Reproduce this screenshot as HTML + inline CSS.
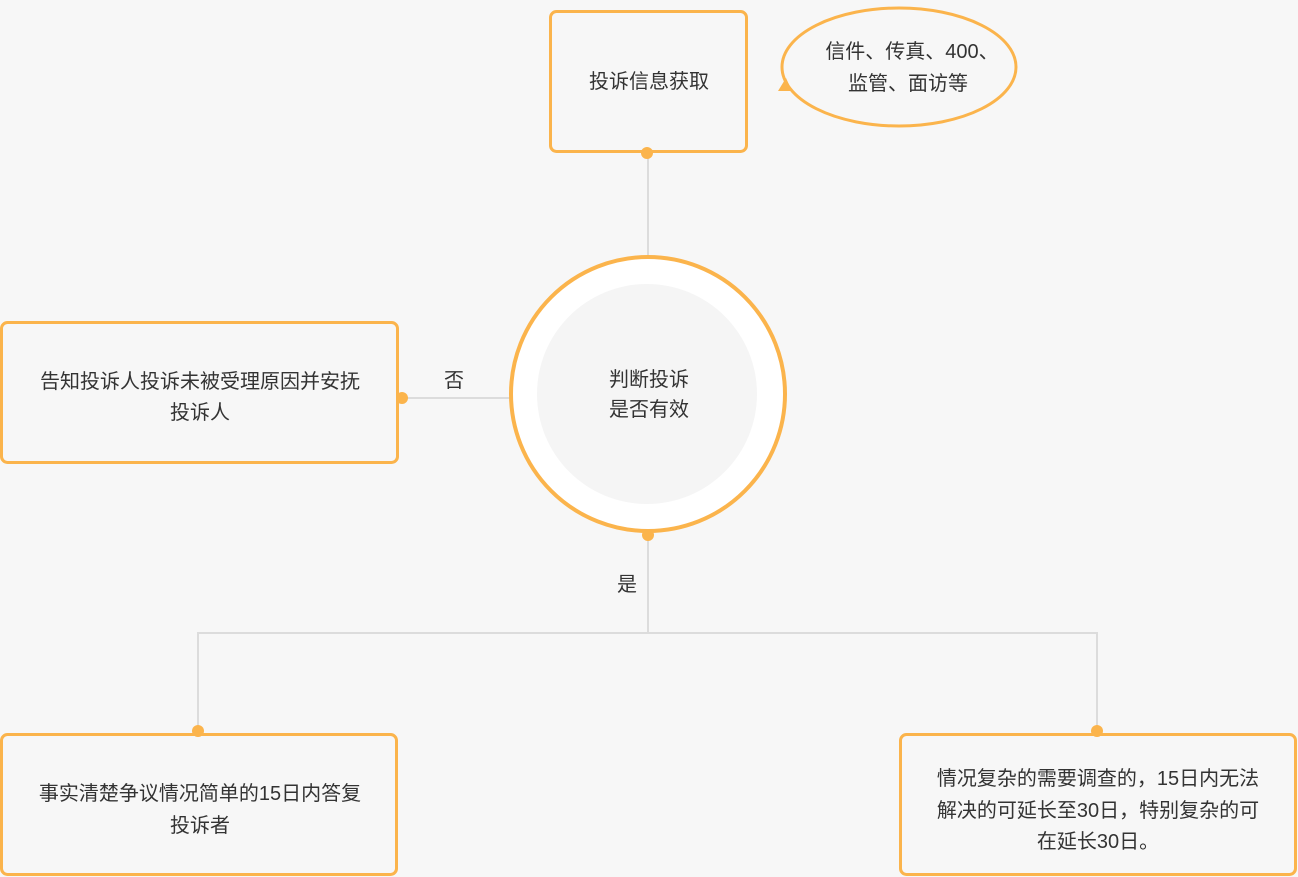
<!DOCTYPE html>
<html><head><meta charset="utf-8"><style>
body{margin:0;width:1298px;height:877px;background:#f7f7f7;overflow:hidden;font-family:"Liberation Sans","Noto Sans CJK SC",sans-serif;}
</style></head><body>
<svg width="1298" height="877" xmlns="http://www.w3.org/2000/svg" style="position:absolute;left:0;top:0">
<g stroke="#dcdcdc" stroke-width="2" fill="none">
<line x1="648" y1="153" x2="648" y2="258"/>
<line x1="402" y1="398" x2="510" y2="398"/>
<polyline points="648,535 648,633 198,633 198,731"/>
<polyline points="648,633 1097,633 1097,731"/>
</g>
<g fill="#f7f7f7" stroke="#fbb44c" stroke-width="3">
<rect x="550.5" y="11.5" width="196" height="140" rx="6"/>
<rect x="1.5" y="322.5" width="396" height="140" rx="6"/>
<rect x="1.5" y="734.5" width="395" height="140" rx="6"/>
<rect x="900.5" y="734.5" width="395" height="140" rx="6"/>
<ellipse cx="899" cy="67" rx="117" ry="59"/>
</g>
<polygon points="778,91 792,91 786,78" fill="#fbb44c"/>
<circle cx="648" cy="394" r="137" fill="#fff" stroke="#fbb44c" stroke-width="4"/>
<circle cx="647" cy="394" r="110" fill="#f5f5f5"/>
<g fill="#fbb44c">
<circle cx="647" cy="153" r="6"/>
<circle cx="402" cy="398" r="6"/>
<circle cx="648" cy="535" r="6"/>
<circle cx="198" cy="731" r="6"/>
<circle cx="1097" cy="731" r="6"/>
</g>
<g fill="#333" font-size="20" text-anchor="middle" font-family="Liberation Sans, Noto Sans CJK SC, sans-serif">
<text x="649" y="88">投诉信息获取</text>
<text x="912" y="58">信件、传真、400、</text>
<text x="908" y="90">监管、面访等</text>
<text x="649" y="386">判断投诉</text>
<text x="649" y="416">是否有效</text>
<text x="454" y="387">否</text>
<text x="627" y="591">是</text>
<text x="200" y="388">告知投诉人投诉未被受理原因并安抚</text>
<text x="200" y="419">投诉人</text>
<text x="200" y="800">事实清楚争议情况简单的15日内答复</text>
<text x="200" y="832">投诉者</text>
<text x="1098" y="785">情况复杂的需要调查的，15日内无法</text>
<text x="1098" y="817">解决的可延长至30日，特别复杂的可</text>
<text x="1098" y="848">在延长30日。</text>
</g>
</svg>
</body></html>
